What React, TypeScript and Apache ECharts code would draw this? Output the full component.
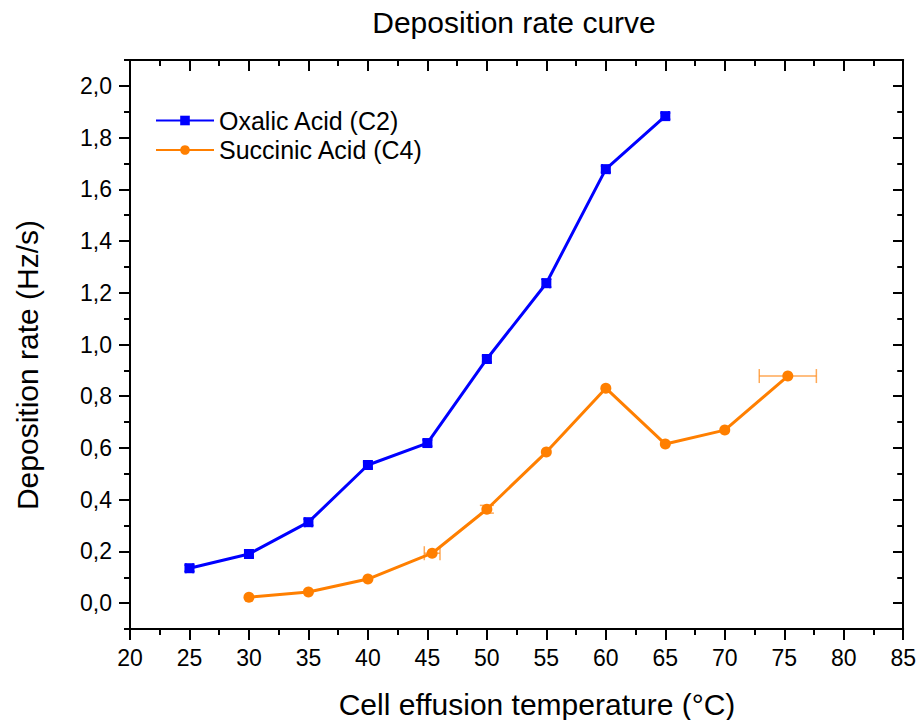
import React, { useEffect, useRef } from "react";
import * as echarts from "echarts";

// ---- data ----
const oxalicTemp = [25, 30, 35, 40, 45, 50, 55, 60, 65];
const oxalicRate = [0.135, 0.19, 0.313, 0.534, 0.619, 0.944, 1.237, 1.678, 1.883];
const oxalicTempErr = [0.3, 0.3, 0.3, 0.3, 0.3, 0.3, 0.3, 0.3, 0.3];
const oxalicRateErr = [0.012, 0.012, 0.012, 0.012, 0.012, 0.012, 0.015, 0.012, 0.012];

const succinicTemp = [30, 35, 40, 45.4, 50, 55, 60, 65, 70, 75.3];
const succinicRate = [0.023, 0.043, 0.093, 0.193, 0.363, 0.584, 0.831, 0.615, 0.669, 0.878];
const succinicTempErr = [0, 0, 0, 0.66, 0, 0, 0, 0, 0, 2.4];
const succinicRateErr = [0, 0, 0, 0, 0.015, 0, 0, 0, 0, 0];

const seriesNames = ["Oxalic Acid (C2)", "Succinic Acid (C4)"];
const chartTitle = "Deposition rate curve";
const xAxisTitle = "Cell effusion temperature (°C)";
const yAxisTitle = "Deposition rate (Hz/s)";

const X_MIN = 20, X_MAX = 85, X_STEP = 5;
const Y_MIN = -0.1, Y_MAX = 2.1, Y_MINOR = 0.1;
const Y_LAB_MIN = 0, Y_LAB_MAX = 2.0, Y_STEP = 0.2;

// ---- layout ----
const W = 919, H = 720;
const G_LEFT = 130, G_RIGHT = 15, G_TOP = 60, G_BOTTOM = 91;
const FONT = "'Liberation Sans', Arial, sans-serif";
const BLUE = "#0000FF";
const ORANGE = "#FF7F00";
const ORANGE_ERR = "rgba(255,140,30,0.75)";

export default function App() {
  const ref = useRef<HTMLDivElement>(null);

  useEffect(() => {
    if (!ref.current) return;
    const chart = echarts.init(ref.current, null, { renderer: "svg" });

    const unit = (H - G_TOP - G_BOTTOM) / (Y_MAX - Y_MIN);
    const g2Top = G_TOP + (Y_MAX - Y_LAB_MAX) * unit;
    const g2Bottom = G_BOTTOM + (Y_LAB_MIN - Y_MIN) * unit;

    const oxData = oxalicTemp.map((t, i) => [t, oxalicRate[i]]);
    const suData = succinicTemp.map((t, i) => [t, succinicRate[i]]);
    const oxErr = oxalicTemp.map((t, i) => [t, oxalicRate[i], oxalicTempErr[i], oxalicRateErr[i]]);
    const suErr = succinicTemp.map((t, i) => [t, succinicRate[i], succinicTempErr[i], succinicRateErr[i]]);

    const errRender = (color: string, lw: number, cap: number) => (params: any, api: any) => {
      const x = api.value(0), y = api.value(1), ex = api.value(2), ey = api.value(3);
      const children: any[] = [];
      const style = { stroke: color, lineWidth: lw, fill: "none" };
      if (ex > 0) {
        const l = api.coord([x - ex, y]);
        const r = api.coord([x + ex, y]);
        children.push({ type: "line", shape: { x1: l[0], y1: l[1], x2: r[0], y2: r[1] }, style });
        children.push({ type: "line", shape: { x1: l[0], y1: l[1] - cap, x2: l[0], y2: l[1] + cap }, style });
        children.push({ type: "line", shape: { x1: r[0], y1: r[1] - cap, x2: r[0], y2: r[1] + cap }, style });
      }
      if (ey > 0) {
        const b = api.coord([x, y - ey]);
        const t = api.coord([x, y + ey]);
        children.push({ type: "line", shape: { x1: b[0], y1: b[1], x2: t[0], y2: t[1] }, style });
        children.push({ type: "line", shape: { x1: b[0] - cap, y1: b[1], x2: b[0] + cap, y2: b[1] }, style });
        children.push({ type: "line", shape: { x1: t[0] - cap, y1: t[1], x2: t[0] + cap, y2: t[1] }, style });
      }
      return { type: "group", children };
    };

    const axisLineStyle = { color: "#000", width: 2 };

    chart.setOption({
      animation: false,
      backgroundColor: "#fff",
      textStyle: { fontFamily: FONT },
      grid: [
        { left: G_LEFT, right: G_RIGHT, top: G_TOP, bottom: G_BOTTOM, containLabel: false },
        { left: G_LEFT, right: G_RIGHT, top: g2Top, bottom: g2Bottom, containLabel: false },
      ],
      xAxis: [
        {
          gridIndex: 0, type: "value", position: "bottom",
          min: X_MIN, max: X_MAX, interval: X_STEP,
          axisLine: { show: true, onZero: false, lineStyle: axisLineStyle },
          axisTick: { show: true, inside: false, length: 11, lineStyle: axisLineStyle },
          minorTick: { show: true, splitNumber: 2, length: 6, lineStyle: axisLineStyle },
          axisLabel: { show: true, margin: 17, fontSize: 23, color: "#000", fontFamily: FONT },
          splitLine: { show: false },
        },
        {
          gridIndex: 0, type: "value", position: "top",
          min: X_MIN, max: X_MAX, interval: X_STEP,
          axisLine: { show: true, onZero: false, lineStyle: axisLineStyle },
          axisTick: { show: true, inside: true, length: 11, lineStyle: axisLineStyle },
          minorTick: { show: true, splitNumber: 2, length: 6, lineStyle: axisLineStyle },
          axisLabel: { show: false },
          splitLine: { show: false },
        },
        {
          gridIndex: 1, type: "value", show: false,
          min: X_MIN, max: X_MAX, interval: X_STEP,
        },
      ],
      yAxis: [
        {
          gridIndex: 0, type: "value", position: "left",
          min: Y_MIN, max: Y_MAX, interval: Y_MINOR,
          axisLine: { show: true, onZero: false, lineStyle: axisLineStyle },
          axisTick: { show: true, inside: false, length: 6, lineStyle: axisLineStyle },
          axisLabel: { show: false },
          splitLine: { show: false },
        },
        {
          gridIndex: 0, type: "value", position: "right",
          min: Y_MIN, max: Y_MAX, interval: Y_MINOR,
          axisLine: { show: true, onZero: false, lineStyle: axisLineStyle },
          axisTick: { show: true, inside: true, length: 6, lineStyle: axisLineStyle },
          axisLabel: { show: false },
          splitLine: { show: false },
        },
        {
          gridIndex: 1, type: "value", position: "left",
          min: Y_LAB_MIN, max: Y_LAB_MAX, interval: Y_STEP,
          axisLine: { show: false },
          axisTick: { show: true, inside: false, length: 11, lineStyle: axisLineStyle },
          axisLabel: {
            show: true, margin: 18, fontSize: 23, color: "#000", fontFamily: FONT,
            formatter: (v: number) => v.toFixed(1).replace(".", ","),
          },
          splitLine: { show: false },
        },
        {
          gridIndex: 1, type: "value", position: "right",
          min: Y_LAB_MIN, max: Y_LAB_MAX, interval: Y_STEP,
          axisLine: { show: false },
          axisTick: { show: true, inside: true, length: 11, lineStyle: axisLineStyle },
          axisLabel: { show: false },
          splitLine: { show: false },
        },
      ],
      legend: {
        orient: "vertical",
        left: 155,
        top: 108,
        padding: 0,
        itemWidth: 58,
        itemHeight: 12,
        itemGap: 4.5,
        data: seriesNames,
        textStyle: { fontSize: 25, color: "#000", fontFamily: FONT },
      },
      series: [
        {
          name: seriesNames[0] + " err", type: "custom",
          xAxisIndex: 0, yAxisIndex: 0, z: 3,
          renderItem: errRender(BLUE, 1.5, 5),
          encode: { x: 0, y: 1 },
          data: oxErr,
          silent: true,
        },
        {
          name: seriesNames[1] + " err", type: "custom",
          xAxisIndex: 0, yAxisIndex: 0, z: 3,
          renderItem: errRender(ORANGE_ERR, 1.5, 7),
          encode: { x: 0, y: 1 },
          data: suErr,
          silent: true,
        },
        {
          name: seriesNames[0], type: "line",
          xAxisIndex: 0, yAxisIndex: 0, z: 4,
          data: oxData,
          symbol: "rect", symbolSize: 10,
          lineStyle: { color: BLUE, width: 3 },
          itemStyle: { color: BLUE },
        },
        {
          name: seriesNames[1], type: "line",
          xAxisIndex: 0, yAxisIndex: 0, z: 4,
          data: suData,
          symbol: "circle", symbolSize: 11,
          lineStyle: { color: ORANGE, width: 3 },
          itemStyle: { color: ORANGE },
        },
      ],
      graphic: [
        {
          type: "text", x: 514, y: 22,
          style: { text: chartTitle, fontSize: 30, fill: "#000", fontFamily: FONT, align: "center", verticalAlign: "middle" },
        },
        {
          type: "text", x: 537, y: 704,
          style: { text: xAxisTitle, fontSize: 30, fill: "#000", fontFamily: FONT, align: "center", verticalAlign: "middle" },
        },
        {
          type: "text", x: 27, y: 365, rotation: Math.PI / 2,
          style: { text: yAxisTitle, fontSize: 30, fill: "#000", fontFamily: FONT, align: "center", verticalAlign: "middle" },
        },
      ],
    });

    return () => chart.dispose();
  }, []);

  return (
    <div
      ref={ref}
      style={{ position: "fixed", left: 0, top: 0, width: W, height: H, background: "#fff" }}
    />
  );
}
